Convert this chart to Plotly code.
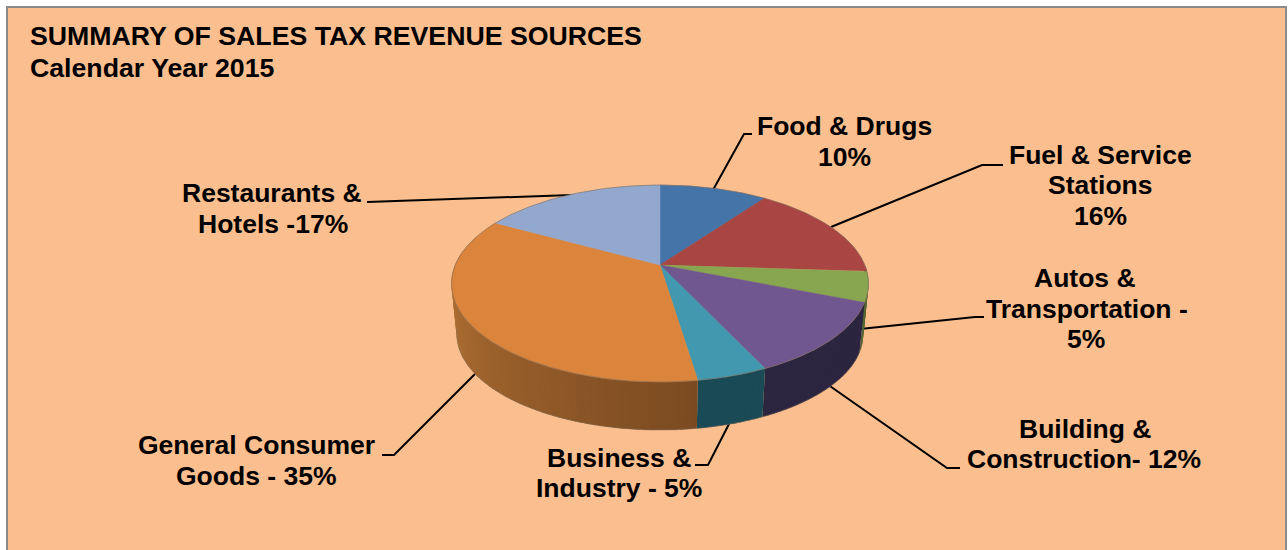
import numpy as np
import plotly.graph_objects as go

categories = ["Food & Drugs", "Fuel & Service Stations", "Autos & Transportation",
              "Building & Construction", "Business & Industry",
              "General Consumer Goods", "Restaurants & Hotels"]
shares = [10, 16, 5, 12, 4.6, 35.4, 17]
top_colors = ["#4574A8", "#A94542", "#88A54F", "#71578F", "#4198AF", "#DA843C", "#93A8CF"]
# wall colour at the start and the end of each slice (clockwise)
wall_start = ["#2B4566", "#672A28", "#526430", "#2C2540", "#1A4A55", "#7A4A20", "#93A8CF"]
wall_end = ["#2B4566", "#672A28", "#526430", "#2C2540", "#1A4A55", "#C8803C", "#93A8CF"]

title_lines = ["SUMMARY OF SALES TAX REVENUE SOURCES", "Calendar Year 2015"]
label_lines = [
    ("Food & Drugs", 844.5, 126), ("10%", 844.5, 157),
    ("Fuel & Service", 1100, 155), ("Stations", 1100, 185), ("16%", 1100, 216),
    ("Autos &", 1085, 278), ("Transportation -", 1087, 309), ("5%", 1086, 339),
    ("Building &", 1085, 429), ("Construction- 12%", 1084, 459),
    ("Business &", 619, 458), ("Industry - 5%", 619, 488),
    ("General Consumer", 256, 445), ("Goods - 35%", 256, 476),
    ("Restaurants &", 272, 193), ("Hotels -17%", 273, 224),
]
leaders = [
    [(713, 190), (744, 134), (752, 134)],
    [(831, 227), (982, 165), (1003, 165)],
    [(860, 329), (975, 317), (984, 317)],
    [(827, 384), (947, 468), (960, 468)],
    [(730, 422), (708, 465), (695, 465)],
    [(479, 370), (394, 455), (382, 455)],
    [(572, 195), (378, 202), (367, 202)],
]

# projection of the tilted disc to page pixels
CX, CY, A, B, P = 660.0, 265.0, 204.8, 95.0, 0.188
SCALE_BOTTOM, DROP = 0.975, 51.0


def top(a):
    u, v = np.sin(a), np.cos(a)
    w = 1 + P * v
    return CX + A * u / w, CY - B * v / w


def bottom(a):
    x, y = top(a)
    return CX + SCALE_BOTTOM * (x - CX), CY + SCALE_BOTTOM * (y - CY) + DROP


def mix(c1, c2, t):
    a = [int(c1[i:i + 2], 16) for i in (1, 3, 5)]
    b = [int(c2[i:i + 2], 16) for i in (1, 3, 5)]
    return "rgb(%d,%d,%d)" % tuple(round(a[i] + (b[i] - a[i]) * t) for i in range(3))


fig = go.Figure()
edges = np.cumsum([0] + shares) / sum(shares) * 2 * np.pi

# leader lines sit under the pie
for pts in leaders:
    fig.add_trace(go.Scatter(x=[p[0] for p in pts], y=[p[1] for p in pts], mode="lines",
                             line=dict(color="#000000", width=2)))

# side wall: overlapping strips painted from both ends of the visible arc toward the front
strips = []
OVER = 0.012
for i, (a0, a1) in enumerate(zip(edges[:-1], edges[1:])):
    lo, hi = max(a0, np.pi / 2), min(a1, 1.55 * np.pi)
    if hi <= lo:
        continue
    n = max(2, int((hi - lo) / 0.03))
    grid = np.linspace(lo, hi, n + 1)
    for g0, g1 in zip(grid[:-1], grid[1:]):
        mid = (g0 + g1) / 2
        t = (mid - a0) / (a1 - a0)
        strips.append((abs(mid - np.pi), max(lo, g0 - OVER), min(hi, g1 + OVER), i, t))
strips.sort(key=lambda s: -s[0])
for _, g0, g1, i, t in strips:
    x0, y0 = top(np.array([g0, g1]))
    x1, y1 = bottom(np.array([g1, g0]))
    fig.add_trace(go.Scatter(x=list(x0) + list(x1), y=list(y0) + list(y1), mode="none",
                             fill="toself", fillcolor=mix(wall_start[i], wall_end[i], t)))

# outline of the wall bottom
arc = np.linspace(np.radians(105), np.radians(262), 200)
bx, by = bottom(arc)
fig.add_trace(go.Scatter(x=bx, y=by, mode="lines", line=dict(color="rgba(130,110,90,0.55)", width=1)))

# top faces
for i, (a0, a1) in enumerate(zip(edges[:-1], edges[1:])):
    g = np.linspace(a0, a1, 120)
    x, y = top(g)
    fig.add_trace(go.Scatter(x=[CX] + list(x) + [CX], y=[CY] + list(y) + [CY], mode="lines",
                             fill="toself", fillcolor=top_colors[i],
                             line=dict(color=top_colors[i], width=0.5)))
g = np.linspace(0, 2 * np.pi, 400)
x, y = top(g)
fig.add_trace(go.Scatter(x=x, y=y, mode="lines", line=dict(color="rgba(130,110,90,0.6)", width=1)))

ann = []
for k, line in enumerate(title_lines):
    ann.append(dict(x=28, y=36 + 32 * k, text=line, xanchor="left", yanchor="middle",
                    showarrow=False, font=dict(family="Liberation Sans", size=26.7,
                                               color="#000000", weight="bold")))
for text, xp, yp in label_lines:
    ann.append(dict(x=xp, y=yp, text=text, xanchor="center", yanchor="middle", showarrow=False,
                    font=dict(family="Liberation Sans", size=26.5, color="#000000",
                              weight="bold")))

fig.update_layout(
    width=1288, height=550, margin=dict(l=0, r=0, t=0, b=0),
    paper_bgcolor="#FFFFFF", plot_bgcolor="#FFFFFF", showlegend=False, hovermode=False,
    font=dict(family="Liberation Sans", size=26, color="#000000"),
    xaxis=dict(range=[0, 1288], visible=False, fixedrange=True),
    yaxis=dict(range=[550, 0], visible=False, fixedrange=True),
    annotations=ann,
    shapes=[dict(type="rect", x0=7, y0=7, x1=1286, y1=570, layer="below",
                 fillcolor="#FBBF8F", line=dict(color="#8A8A8A", width=2))],
)

fig.write_html("out.html", config={"displayModeBar": False},
               post_script="document.body.style.margin='0';document.body.style.overflow='hidden';")
